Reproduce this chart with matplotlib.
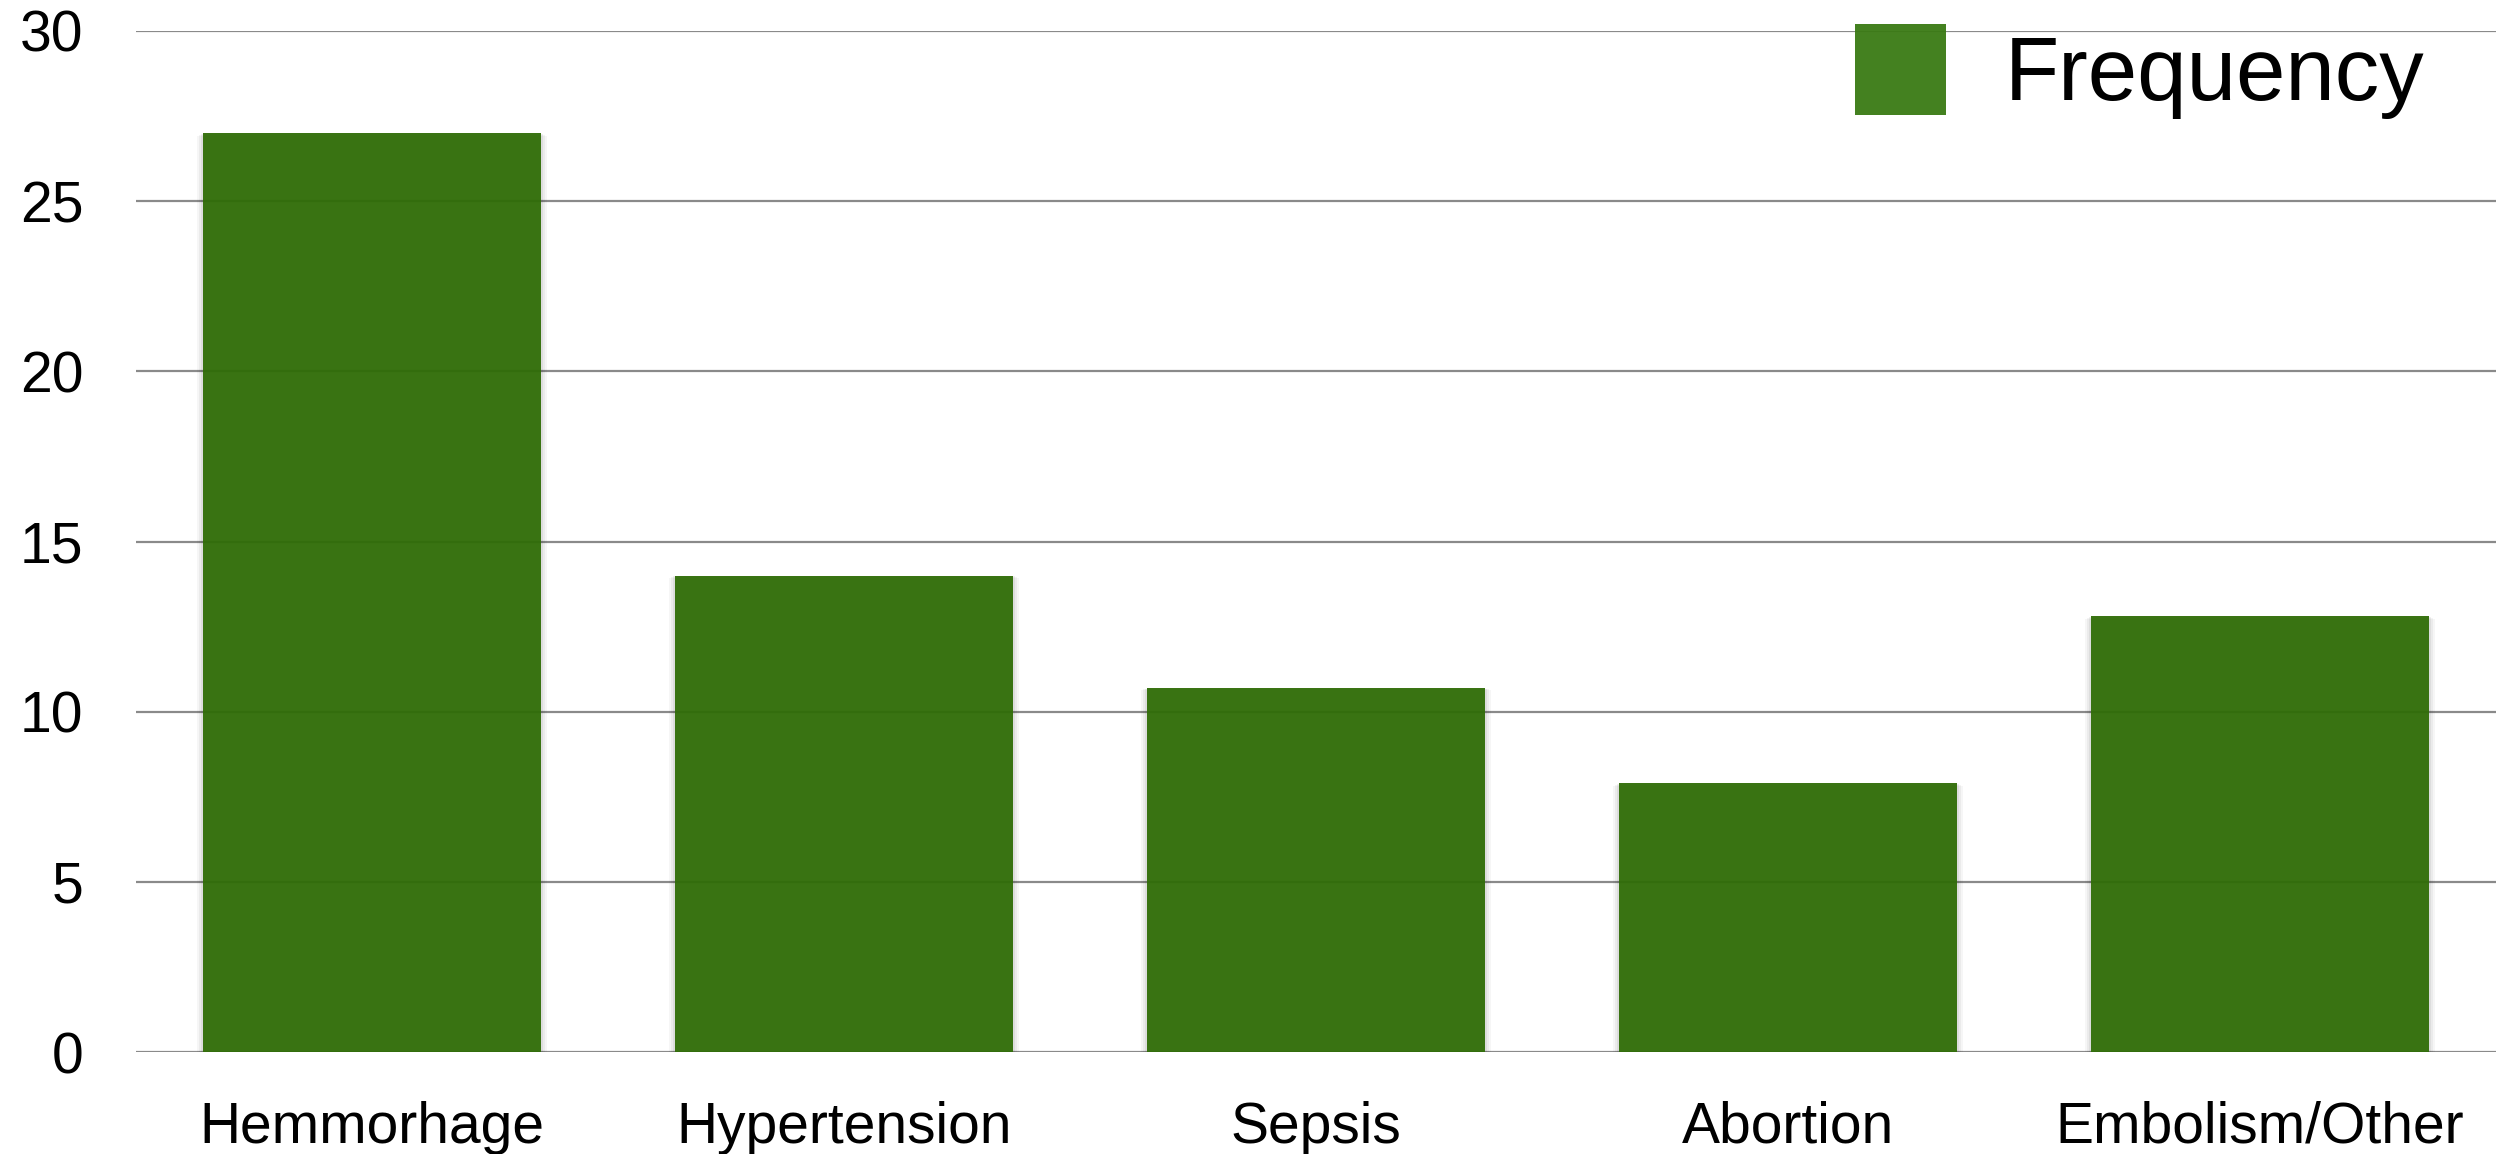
import matplotlib
matplotlib.use("Agg")
import matplotlib.pyplot as plt
from matplotlib.patches import Patch

# Maternal death causes and their frequencies
categories = ["Hemmorhage", "Hypertension", "Sepsis", "Abortion", "Embolism/Other"]
frequency = [27.0, 14.0, 10.7, 7.9, 12.8]
y_ticks = [0, 5, 10, 15, 20, 25, 30]
series_name = "Frequency"

bar_color = "#306d07"
grid_color = "#8a8a8a"
bar_width = 0.716

plt.rcParams["font.family"] = ["Liberation Sans", "DejaVu Sans"]

fig = plt.figure(figsize=(25.08, 11.54), dpi=100)
ax = fig.add_axes([136 / 2508, 102 / 1154, 2360 / 2508, 1021 / 1154])

x = list(range(len(categories)))

# soft shadow: a few faint, slightly larger dark layers beneath each bar
for grow, alpha in [(0.012, 0.035), (0.008, 0.045), (0.004, 0.06)]:
    ax.bar(x, [v + grow * 8 for v in frequency], width=bar_width + 2 * grow,
           bottom=-grow * 14, color="black", alpha=alpha, linewidth=0, zorder=2)

ax.bar(x, frequency, width=bar_width, color=bar_color, alpha=0.95,
       linewidth=0, zorder=3)

ax.set_xlim(-0.5, len(categories) - 0.5)
ax.set_ylim(0, 30)
ax.set_yticks(y_ticks)
ax.set_xticks(x)
ax.set_xticklabels(categories)

ax.grid(axis="y", color=grid_color, linewidth=1.6, zorder=1)
ax.set_axisbelow(True)
for s in ax.spines.values():
    s.set_visible(False)

ax.tick_params(axis="x", length=0, pad=35, labelsize=41, labelcolor="black")
ax.tick_params(axis="y", length=0, pad=38, labelsize=41, labelcolor="black")

handle = Patch(facecolor="#3a7a14", alpha=0.95, edgecolor="none")
fig.legend(
    [handle], [series_name],
    loc="upper left",
    bbox_to_anchor=(1855 / 2508, 1 - 24 / 1154),
    frameon=False,
    borderpad=0, borderaxespad=0,
    handlelength=1.024, handleheight=1.2, handletextpad=0.66,
    prop={"family": ["Liberation Sans"], "size": 64},
)

fig.savefig("out.png", dpi=100, facecolor="white")
